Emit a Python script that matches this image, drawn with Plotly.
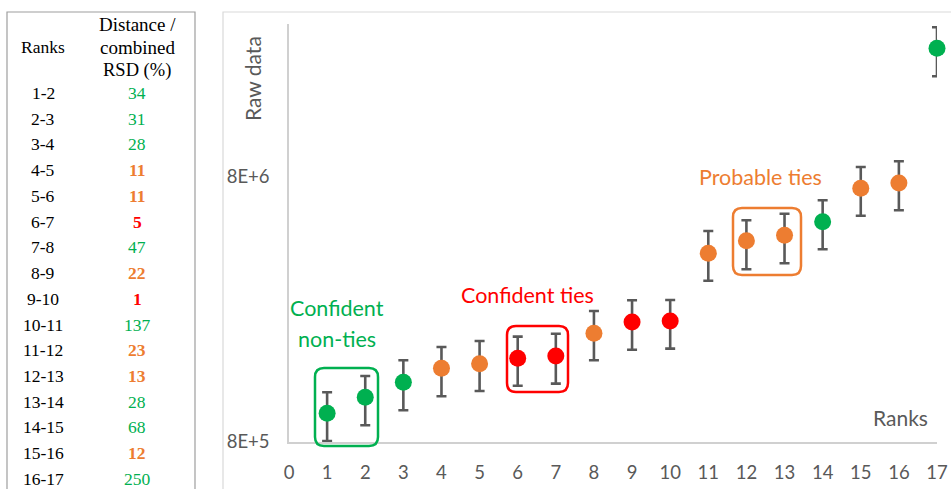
import plotly.graph_objects as go

# ---------------- data ----------------
ranks = list(range(1, 18))
raw_values = [1.027e6, 1.180e6, 1.344e6, 1.518e6, 1.580e6, 1.655e6, 1.689e6, 2.057e6, 2.269e6,
              2.289e6, 4.124e6, 4.599e6, 4.821e6, 5.425e6, 7.254e6, 7.596e6, 2.448e7]
upper_values = [1.232e6, 1.420e6, 1.627e6, 1.827e6, 1.924e6, 1.998e6, 2.050e6, 2.497e6, 2.741e6,
                2.746e6, 5.004e6, 5.491e6, 5.815e6, 6.535e6, 8.726e6, 9.169e6, 2.938e7]
lower_values = [8.07e5, 9.25e5, 1.054e6, 1.190e6, 1.246e6, 1.305e6, 1.328e6, 1.627e6, 1.784e6,
                1.800e6, 3.250e6, 3.588e6, 3.780e6, 4.270e6, 5.716e6, 5.990e6, 1.919e7]
point_class = ["g", "g", "g", "o", "o", "r", "r", "o", "r", "r", "o", "o", "o", "g", "o", "o", "g"]

pair_labels = ["1-2", "2-3", "3-4", "4-5", "5-6", "6-7", "7-8", "8-9", "9-10", "10-11",
               "11-12", "12-13", "13-14", "14-15", "15-16", "16-17"]
pair_rsd = [34, 31, 28, 11, 11, 5, 47, 22, 1, 137, 23, 13, 28, 68, 12, 250]
pair_class = ["g", "g", "g", "o", "o", "r", "g", "o", "r", "g", "o", "o", "g", "g", "o", "g"]

y_ticks = [8e5, 8e6]
y_tick_text = ["8E+5", "8E+6"]
x_ticks = list(range(0, 18))

COL = {"g": "#00B050", "o": "#ED7D31", "r": "#FF0000"}
GREY = "#595959"
FONT = "Lato"

W, H = 951, 489
L, R, T, B = 289, 937, 24, 442  # plot area pixel box

def px(x):
    return (x - L) / (R - L)

def py(y):
    return (B - y) / (B - T)

fig = go.Figure()
fig.add_trace(go.Scatter(
    x=ranks, y=raw_values, mode="markers",
    marker=dict(size=17, color=[COL[c] for c in point_class], line=dict(width=0)),
    error_y=dict(type="data", symmetric=False,
                 array=[u - v for u, v in zip(upper_values, raw_values)],
                 arrayminus=[v - l for v, l in zip(raw_values, lower_values)],
                 color=GREY, thickness=2.6, width=5),
    showlegend=False, cliponaxis=False, hoverinfo="x+y"))

shapes = []
annotations = []

# panel borders
shapes.append(dict(type="rect", xref="paper", yref="paper", x0=px(7), x1=px(195), y0=py(500), y1=py(12),
                   line=dict(color="#9E9E9E", width=1.2), layer="below"))
shapes.append(dict(type="rect", xref="paper", yref="paper", x0=px(223), x1=px(960), y0=py(500), y1=py(12),
                   line=dict(color="#D9D9D9", width=1.2), layer="below"))

def rounded(x0, x1, y0, y1, color, r=9):
    X0, X1 = px(x0), px(x1)
    Y0, Y1 = py(y1), py(y0)
    rx = r / (R - L)
    ry = r / (B - T)
    path = (f"M {X0+rx},{Y0} L {X1-rx},{Y0} Q {X1},{Y0} {X1},{Y0+ry} "
            f"L {X1},{Y1-ry} Q {X1},{Y1} {X1-rx},{Y1} L {X0+rx},{Y1} "
            f"Q {X0},{Y1} {X0},{Y1-ry} L {X0},{Y0+ry} Q {X0},{Y0} {X0+rx},{Y0} Z")
    return dict(type="path", xref="paper", yref="paper", path=path,
                line=dict(color=color, width=2.5))

shapes.append(rounded(315, 378, 368, 446, COL["g"]))
shapes.append(rounded(507, 568, 326, 392, COL["r"]))
shapes.append(rounded(733, 801, 208, 275, COL["o"]))

def text(x, y, s, color, size, font=FONT, angle=0, bold=False):
    annotations.append(dict(xref="paper", yref="paper", x=px(x), y=py(y), text=(f"<b>{s}</b>" if bold else s),
                            showarrow=False, xanchor="center", yanchor="middle", textangle=angle,
                            font=dict(family=font, size=size, color=color)))

text(337, 308, "Confident", COL["g"], 21.5)
text(337, 339, "non-ties", COL["g"], 21.5)
text(527, 295, "Confident ties", COL["r"], 21.5)
text(760, 177, "Probable ties", COL["o"], 21.5)
text(253, 79, "Raw data", GREY, 21, angle=-90)
text(900, 417, "Ranks", GREY, 21)

# table
SERIF = "Liberation Serif"
text(43, 47, "Ranks", "#000000", 17.5, font=SERIF)
text(137, 25, "Distance /", "#000000", 19, font=SERIF)
text(137, 47, "combined", "#000000", 19, font=SERIF)
text(137, 70, "RSD (%)", "#000000", 18.5, font=SERIF)
for i, (lab, v, c) in enumerate(zip(pair_labels, pair_rsd, pair_class)):
    yy = 93 + i * 25.73
    text(43, yy, lab, "#000000", 17.5, font=SERIF)
    text(137, yy, str(v), COL[c], 17.5, font=SERIF, bold=(c != "g"))

fig.update_layout(
    width=W, height=H, margin=dict(l=L, r=W - R, t=T, b=H - B, pad=0, autoexpand=False),
    paper_bgcolor="white", plot_bgcolor="white",
    shapes=shapes, annotations=annotations,
    xaxis=dict(range=[0, 17], tickvals=x_ticks, showgrid=False, zeroline=False, automargin=False,
               showline=True, linecolor="#D0D0D0", linewidth=1.5, ticks="",
               ticklabelstandoff=13, tickfont=dict(family=FONT, size=18.5, color=GREY)),
    yaxis=dict(type="log", range=[5.90309, 7.4805], tickvals=y_ticks, ticktext=y_tick_text,
               showgrid=False, zeroline=False, automargin=False,
               showline=True, linecolor="#D0D0D0", linewidth=1.5,
               ticks="", ticklabelstandoff=14, tickfont=dict(family=FONT, size=18.5, color=GREY)),
)

fig.write_html("out.html", config={"displayModeBar": False},
               post_script="document.body.style.margin='0px';document.body.style.padding='0px';")
